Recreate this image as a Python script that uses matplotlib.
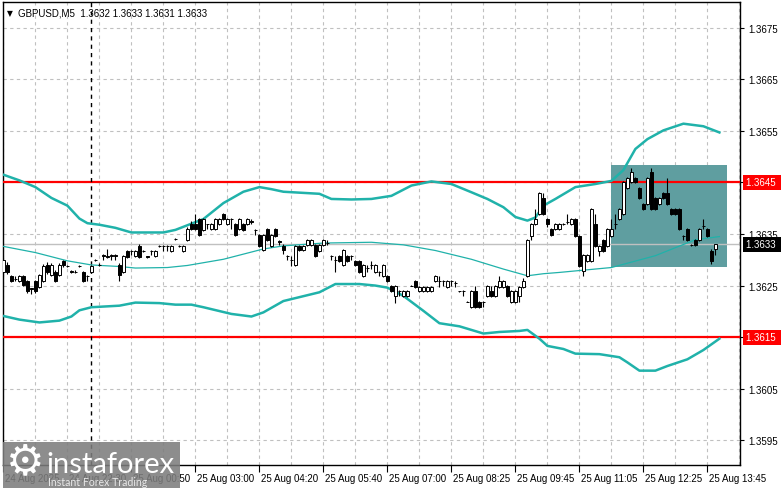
import matplotlib
matplotlib.use("Agg")
import matplotlib.pyplot as plt
import matplotlib.transforms as mtransforms
from matplotlib.patches import Rectangle
from matplotlib.ticker import FixedLocator, FixedFormatter

# -------------------------------------------------------------
# GBPUSD M5 candles, values in pips above 1.3600 (bar 0 .. 178)
# -------------------------------------------------------------
opens = [27.6, 29.0, 26.8, 26.3, 25.9, 26.8, 25.8, 24.5, 25.8, 24.8,
         25.8, 29.0, 27.0, 27.6, 27.0, 29.8, 28.8, 27.8, 27.7, 28.8,
         27.7, 26.9, 27.7, 30.0, 29.0, 30.9, 30.8, 30.9, 30.9, 29.0,
         27.7, 31.7, 31.8, 30.7, 32.7, 31.7, 30.7, 31.8, 30.7, 32.6,
         32.6, 32.6, 31.7, 34.0, 32.7, 31.7, 33.8, 36.9, 37.0, 37.9,
         35.8, 36.9, 36.0, 36.0, 36.9, 38.9, 36.9, 37.9, 36.9, 36.0,
         36.9, 36.9, 37.5, 35.8, 34.8, 31.9, 36.0, 32.7, 36.0, 33.6,
         32.7, 30.8, 30.0, 28.9, 32.7, 31.9, 32.9, 32.9, 32.9, 31.8,
         32.9, 33.3, 30.8, 30.0, 30.8, 28.9, 30.8, 30.8, 29.8, 29.8,
         26.8, 28.5, 29.0, 27.7, 27.7, 26.8, 26.9, 25.0, 23.0, 23.9,
         22.9, 22.9, 25.0, 25.8, 23.9, 23.9, 23.9, 23.9, 25.8, 25.8,
         25.8, 24.8, 25.8, 25.5, 23.9, 23.9, 21.9, 20.8, 23.9, 21.9,
         21.9, 22.9, 23.9, 22.9, 24.8, 24.8, 25.0, 21.9, 21.9, 22.9,
         24.8, 26.9, 34.7, 36.9, 38.9, 42.0, 37.9, 36.0, 36.0, 36.0,
         36.9, 37.4, 36.9, 37.9, 34.7, 27.9, 29.8, 29.8, 36.9, 31.8,
         33.9, 32.7, 34.7, 36.9, 37.9, 38.9, 43.9, 45.0, 45.9, 44.0,
         40.8, 40.8, 47.0, 41.9, 40.8, 42.9, 42.9, 39.8, 39.8, 39.8,
         34.7, 36.0, 32.9, 33.9, 33.9, 36.5, 36.0, 31.8, 32.0]
closes = [30.0, 27.6, 25.9, 26.3, 26.8, 25.2, 23.9, 24.4, 23.9, 27.0,
          28.8, 27.6, 29.0, 25.8, 29.0, 29.0, 28.8, 27.7, 27.7, 28.8,
          25.8, 26.9, 28.8, 30.0, 29.0, 30.8, 30.6, 30.8, 30.8, 27.0,
          30.7, 30.6, 31.8, 31.7, 30.6, 31.7, 30.6, 31.8, 31.7, 32.6,
          32.6, 32.6, 32.6, 34.0, 32.7, 32.7, 36.0, 36.0, 36.0, 34.8,
          37.9, 36.9, 36.9, 37.9, 37.9, 37.9, 37.9, 37.9, 34.8, 37.9,
          35.8, 37.9, 37.4, 35.8, 32.7, 34.8, 33.8, 34.8, 34.7, 33.5,
          31.9, 30.8, 30.0, 32.7, 31.9, 32.7, 33.8, 33.8, 30.8, 32.9,
          33.8, 33.3, 30.8, 30.0, 29.8, 31.9, 29.8, 30.8, 28.9, 27.7,
          28.9, 28.5, 29.0, 28.9, 27.7, 28.9, 25.8, 23.9, 25.0, 23.9,
          23.9, 23.9, 25.0, 24.8, 24.8, 24.8, 24.8, 24.8, 26.8, 25.8,
          25.8, 25.8, 25.8, 25.5, 23.9, 23.9, 21.9, 23.9, 20.8, 20.8,
          21.9, 25.0, 22.9, 25.0, 25.8, 25.8, 22.9, 23.9, 23.9, 24.8,
          25.8, 33.8, 36.9, 37.9, 42.9, 38.9, 36.9, 34.8, 36.9, 36.9,
          36.9, 37.4, 37.9, 34.7, 28.8, 30.9, 30.9, 39.8, 32.7, 32.7,
          31.8, 36.0, 36.0, 36.9, 39.8, 45.0, 45.9, 47.0, 45.0, 41.9,
          39.8, 45.9, 39.8, 39.8, 41.9, 41.9, 40.8, 38.9, 38.9, 36.0,
          34.7, 33.9, 32.9, 32.9, 36.0, 36.5, 34.7, 29.8, 33.0]
highs = [30.3, 29.5, 27.0, 26.8, 27.0, 27.0, 26.0, 24.6, 26.0, 27.2,
         29.2, 29.5, 29.4, 28.0, 29.4, 30.0, 29.0, 28.0, 28.0, 29.0,
         27.9, 27.0, 29.0, 30.2, 29.3, 31.2, 32.0, 31.2, 31.2, 29.3,
         30.9, 31.9, 31.9, 31.9, 33.0, 31.9, 30.8, 31.9, 31.9, 32.8,
         32.8, 32.8, 32.8, 34.2, 32.9, 32.9, 36.3, 37.5, 38.9, 38.1,
         38.1, 37.0, 37.1, 38.1, 38.1, 39.1, 38.1, 38.1, 37.1, 38.1,
         37.1, 38.1, 37.9, 36.0, 35.0, 35.0, 36.2, 35.0, 36.2, 33.8,
         33.0, 31.0, 30.8, 32.9, 32.9, 32.9, 34.0, 34.0, 33.1, 33.1,
         34.0, 33.9, 31.0, 30.8, 31.0, 32.1, 31.0, 31.0, 30.0, 30.0,
         29.1, 28.9, 29.8, 29.1, 27.9, 29.1, 27.1, 25.2, 25.2, 24.1,
         24.1, 24.1, 25.1, 26.0, 25.0, 25.0, 25.0, 25.0, 27.0, 26.9,
         26.0, 26.0, 26.0, 25.8, 24.0, 24.1, 22.0, 24.1, 24.9, 22.1,
         22.1, 25.2, 24.9, 25.2, 26.8, 26.0, 25.2, 24.1, 24.1, 25.0,
         26.5, 34.0, 37.1, 39.9, 43.1, 42.9, 38.1, 36.2, 37.1, 37.1,
         37.1, 38.9, 38.1, 38.1, 34.9, 31.1, 31.1, 40.0, 38.9, 32.9,
         34.1, 36.2, 37.9, 38.9, 40.0, 45.2, 46.1, 47.9, 46.1, 44.2,
         41.0, 46.1, 47.9, 42.1, 42.1, 43.1, 45.9, 40.0, 40.0, 40.0,
         34.9, 36.2, 33.1, 34.1, 36.2, 37.9, 36.2, 32.0, 33.1]
lows = [26.8, 27.2, 25.6, 25.8, 25.7, 25.0, 23.6, 23.4, 23.6, 24.5,
        25.6, 27.3, 26.8, 25.6, 26.8, 28.6, 28.6, 27.5, 27.5, 28.6,
        25.6, 25.9, 27.5, 29.8, 28.8, 30.0, 30.4, 30.0, 30.0, 25.8,
        27.5, 30.4, 30.9, 30.5, 30.4, 31.5, 30.4, 30.9, 30.5, 32.4,
        31.7, 31.7, 31.5, 33.8, 32.5, 31.5, 33.6, 35.8, 35.8, 34.6,
        35.6, 35.9, 35.8, 35.8, 36.7, 37.7, 36.7, 36.0, 34.6, 35.8,
        35.6, 36.7, 36.9, 34.8, 32.5, 31.7, 33.6, 32.5, 34.5, 32.8,
        31.2, 29.9, 28.8, 28.7, 31.7, 31.7, 32.7, 32.7, 30.6, 31.6,
        32.7, 32.9, 29.9, 27.7, 29.6, 28.7, 29.6, 29.9, 28.7, 27.5,
        26.6, 27.7, 28.3, 27.5, 26.8, 26.6, 25.6, 23.7, 21.7, 23.0,
        22.7, 22.7, 24.9, 24.6, 23.7, 23.7, 23.7, 23.7, 25.6, 24.8,
        24.9, 24.6, 24.9, 24.8, 23.8, 23.0, 21.8, 20.6, 20.6, 20.6,
        20.8, 22.7, 22.7, 22.7, 24.6, 24.6, 22.7, 21.7, 21.7, 21.8,
        24.6, 26.7, 33.8, 36.7, 38.7, 38.7, 36.3, 34.6, 35.8, 35.8,
        36.7, 36.9, 36.7, 34.5, 28.6, 26.9, 29.6, 29.6, 32.5, 30.8,
        31.6, 32.5, 34.5, 35.9, 37.7, 38.7, 43.7, 44.8, 44.8, 41.7,
        39.6, 40.6, 39.6, 39.6, 40.6, 41.7, 40.6, 38.7, 38.7, 35.8,
        33.8, 33.7, 32.7, 32.7, 33.7, 36.0, 34.5, 29.1, 31.0]

# Bollinger bands: (bar, pips)
upper_x = [0, 4, 8, 12, 16, 19, 21, 24, 28, 32, 40, 43, 46, 50, 55, 60, 64,
           67, 70, 79, 82, 87, 92, 97, 102, 107, 112, 117, 121, 125, 128, 131,
           133, 135, 138, 143, 148, 152, 155, 158, 161, 165, 170, 175, 179]
upper_y = [46.5, 45.4, 44.1, 42.0, 40.5, 38.0, 37.1, 36.8, 36.2, 35.3, 35.3,
           35.8, 36.7, 37.9, 41.0, 43.2, 44.1, 43.7, 43.2, 42.8, 41.8, 41.7,
           41.8, 42.4, 44.4, 45.2, 44.7, 43.1, 41.8, 40.2, 38.3, 37.6, 38.2,
           40.5, 41.8, 44.1, 44.7, 45.3, 47.4, 51.5, 53.4, 55.1, 56.4, 55.9, 54.7]
middle_x = [0, 8, 16, 22, 29, 33, 41, 46, 55, 65, 70, 80, 92, 100, 108, 117,
            125, 131, 135, 139, 152, 163, 173, 179]
middle_y = [32.6, 31.4, 29.8, 29.0, 28.7, 28.4, 28.5, 28.9, 30.1, 32.1, 32.7,
            33.25, 33.4, 32.9, 31.8, 30.1, 28.2, 26.9, 27.3, 27.55, 28.5, 30.8,
            33.9, 34.5]
lower_x = [0, 4, 9, 14, 17, 19, 22, 29, 33, 39, 43, 47, 50, 57, 62, 65, 70,
           79, 83, 89, 93, 96, 100, 105, 109, 114, 120, 124, 129, 131, 134, 136,
           140, 143, 149, 154, 156, 159, 163, 166, 171, 175, 179]
lower_y = [19.1, 18.4, 17.85, 18.2, 19.0, 20.2, 20.8, 21.1, 21.7, 21.6, 21.3,
           21.3, 20.8, 19.5, 19.0, 19.8, 22.0, 23.7, 25.3, 25.3, 25.0, 24.6,
           23.0, 20.1, 17.7, 17.1, 15.7, 16.0, 16.2, 16.4, 14.7, 13.3, 12.7,
           11.8, 11.7, 11.1, 10.1, 8.5, 8.5, 9.4, 10.7, 12.5, 14.7]

levels = [1.3645, 1.3615]
bid = 1.3633
box_bars = (152, 181)
box_pips = (28.65, 48.46)
session_bar = 22

xtick_bars = [0, 16, 32, 48, 64, 80, 96, 112, 128, 144, 160, 176]
xtick_labels = ["24 Aug 2025", "24 Aug 22:30", "25 Aug 00:50", "25 Aug 03:00",
                "25 Aug 04:20", "25 Aug 05:40", "25 Aug 07:00", "25 Aug 08:25",
                "25 Aug 09:45", "25 Aug 11:05", "25 Aug 12:25", "25 Aug 13:45"]
ytick_vals = [1.3595, 1.3605, 1.3615, 1.3625, 1.3635, 1.3645, 1.3655, 1.3665, 1.3675]


def px(p):
    return 1.3600 + p / 10000.0


O = [px(v) for v in opens]
C = [px(v) for v in closes]
H = [px(v) for v in highs]
L = [px(v) for v in lows]
bars = list(range(len(O)))

TEAL = "#20B2AA"
FONT = "Liberation Sans"

fig = plt.figure(figsize=(7.81, 4.89), dpi=100)
ax = fig.add_axes([3 / 781, 23 / 489, 737 / 781, 463 / 489])
ax.set_xlim(-0.1, 184.15)
ax.set_ylim(1.35902, 1.36800)

# grid
ax.xaxis.set_major_locator(FixedLocator(xtick_bars))
ax.xaxis.set_minor_locator(FixedLocator(list(range(0, 185, 8))))
ax.grid(which="both", axis="x", color="#c0c0c0", ls=(0, (3, 3)), lw=0.8, zorder=0)
ax.yaxis.set_major_locator(FixedLocator(ytick_vals))
ax.grid(which="major", axis="y", color="#c0c0c0", ls=(0, (3, 3)), lw=0.8, zorder=0)
ax.set_axisbelow(True)

# shaded box
ax.add_patch(Rectangle((box_bars[0], px(box_pips[0])), box_bars[1] - box_bars[0],
                       px(box_pips[1]) - px(box_pips[0]),
                       facecolor="#5F9EA0", edgecolor="none", zorder=1.5))

ax.axhline(bid, color="#c0c0c0", lw=1.0, zorder=2)
for lv in levels:
    ax.axhline(lv, color="#ff0000", lw=1.6, zorder=3)
ax.axvline(session_bar, color="black", lw=1.0, ls=(0, (3, 3)), zorder=3)

# bands
ax.plot(upper_x, [px(v) for v in upper_y], color=TEAL, lw=1.8, zorder=4)
ax.plot(middle_x, [px(v) for v in middle_y], color=TEAL, lw=0.9, zorder=4)
ax.plot(lower_x, [px(v) for v in lower_y], color=TEAL, lw=1.8, zorder=4)

# candles
ax.vlines(bars, L, H, color="black", lw=0.8, zorder=5)
body_bottom = [min(o, c) for o, c in zip(O, C)]
body_height = [abs(c - o) for o, c in zip(O, C)]
body_color = ["white" if c >= o else "black" for o, c in zip(O, C)]
ax.bar(bars, body_height, bottom=body_bottom, width=0.7, color=body_color,
       edgecolor="black", linewidth=0.7, zorder=6)

# axes frame and ticks
for s in ax.spines.values():
    s.set_color("black")
    s.set_linewidth(1.0)
ax.yaxis.tick_right()
ylabels = ["%.4f" % v for v in ytick_vals]
ylabels[ytick_vals.index(1.3615)] = ""
ylabels[ytick_vals.index(1.3645)] = ""
ax.yaxis.set_major_formatter(FixedFormatter(ylabels))
ax.tick_params(axis="y", which="both", direction="out", length=3, width=0.8,
               pad=3, labelsize=7)
ax.tick_params(axis="x", which="minor", length=0)
ax.tick_params(axis="x", which="major", direction="out", length=5, width=0.8,
               pad=1, labelsize=7)
ax.xaxis.set_major_formatter(FixedFormatter(xtick_labels))
shift = mtransforms.ScaledTranslation(2 / 100, 0, fig.dpi_scale_trans)
for lab in ax.get_xticklabels():
    lab.set_ha("left")
    lab.set_fontfamily(FONT)
    lab.set_transform(lab.get_transform() + shift)
for lab in ax.get_yticklabels():
    lab.set_fontfamily(FONT)

# price labels on the right axis
right = mtransforms.blended_transform_factory(ax.transAxes, ax.transData)
for lv in levels:
    ax.text(1.008, lv, "%.4f " % lv, transform=right, ha="left", va="center",
            color="white", fontsize=7, family=FONT, zorder=10, clip_on=False,
            bbox=dict(boxstyle="square,pad=0.25", facecolor="#ff0000", edgecolor="none"))
ax.text(1.008, bid, "%.4f " % bid, transform=right, ha="left", va="center",
        color="white", fontsize=7, family=FONT, zorder=10, clip_on=False,
        bbox=dict(boxstyle="square,pad=0.25", facecolor="black", edgecolor="none"))

# symbol header
ax.text(0.006, 0.986, "\u25BC", transform=ax.transAxes, ha="left", va="top",
        fontsize=5.5, color="black", family="DejaVu Sans")
ax.text(0.021, 0.988, "GBPUSD,M5  1.3632 1.3633 1.3631 1.3633", transform=ax.transAxes,
        ha="left", va="top", fontsize=7, color="black", family=FONT)

# watermark (sits over the first axis labels, as in the source)
fig.add_artist(Rectangle((3 / 781, 0), 177 / 781, 46 / 489, transform=fig.transFigure,
                         facecolor="#7d7d7d", edgecolor="none", alpha=0.88, zorder=20))
fig.text(25 / 781, 27 / 489, "\u2699", ha="center", va="center",
         fontsize=31, color="white", family="DejaVu Sans", zorder=21)
fig.text(46 / 781, 24 / 489, "instaforex", ha="left", va="center", fontsize=21,
         color="white", family="Lato", zorder=21)
fig.text(48 / 781, 6 / 489, "Instant Forex Trading", ha="left", va="center",
         fontsize=7.6, color="#e8e8e8", family="Lato", zorder=21)

fig.savefig("out.png", dpi=100, facecolor="white")
